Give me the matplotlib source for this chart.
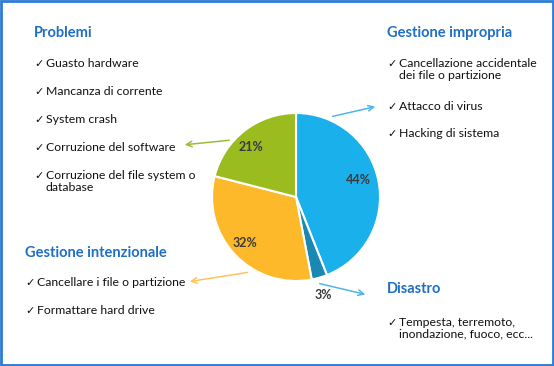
import matplotlib.pyplot as plt
from matplotlib.patches import Rectangle

# pie data (percent of data loss causes)
categories = ['Gestione impropria', 'Disastro', 'Gestione intenzionale', 'Problemi']
shares = [44, 3, 32, 21]
colors = ['#1ab0ec', '#1b87b3', '#fdb92a', '#9bbc1f']
arrow_colors = ['#4fb6e8', '#4fb6e8', '#fcc45a', '#9bbc3a']

problemi_items = ['Guasto hardware', 'Mancanza di corrente', 'System crash',
                  'Corruzione del software', 'Corruzione del file system o\ndatabase']
impropria_items = ['Cancellazione accidentale\ndei file o partizione',
                   'Attacco di virus', 'Hacking di sistema']
intenzionale_items = ['Cancellare i file o partizione', 'Formattare hard drive']
disastro_items = ['Tempesta, terremoto,\ninondazione, fuoco, ecc...']

W, H = 554, 366
FONT = ['Lato', 'DejaVu Sans']
HEAD_COLOR = '#1f6fc6'

fig = plt.figure(figsize=(W / 100, H / 100), dpi=100)
ax = fig.add_axes([0, 0, 1, 1])

def Y(y):
    # pixel row (from top) to data y
    return H - y

cx, cy, r = 296, Y(197), 84
wedges, texts = ax.pie(shares, colors=colors, startangle=90, counterclock=False,
                       center=(cx, cy), radius=r, frame=True,
                       wedgeprops=dict(edgecolor='white', linewidth=1.5))
ax.set_xlim(0, W)
ax.set_ylim(0, H)
ax.set_aspect('equal')
ax.axis('off')

# percent labels
label_pos = [(358, 180), (323, 295), (245, 243), (251, 147)]
for s, (lx, ly) in zip(shares, label_pos):
    ax.text(lx, Y(ly), '%d%%' % s, ha='center', va='center', fontsize=9,
            fontweight='bold', color='#3a3a3a', family=FONT)

# arrows from slices to text blocks
arrows = [((330, 117), (378, 106)), ((317, 283), (368, 295)),
          ((250, 272), (187, 282)), ((232, 140), (182, 145))]
for (p0, p1), c in zip(arrows, arrow_colors):
    ax.annotate('', xy=(p1[0], Y(p1[1])), xytext=(p0[0], Y(p0[1])),
                arrowprops=dict(arrowstyle='->', color=c, lw=1.1))

def block(x, y_head, title, items, y_items):
    ax.text(x, Y(y_head), title, fontsize=10.5, fontweight='bold', color=HEAD_COLOR,
            va='center', ha='left', family=FONT)
    for it, yy in zip(items, y_items):
        ax.text(x, Y(yy + 1), '\u2713', fontsize=8, va='center', ha='left',
                color='#111111', family=['DejaVu Sans'])
        ax.text(x + 12, Y(yy - 5), it, fontsize=8.8, va='top', ha='left', color='#111111',
                family=FONT, linespacing=1.1)

block(34, 33, 'Problemi', problemi_items, [63, 91, 119, 147, 175])
block(387, 33, 'Gestione impropria', impropria_items, [63, 106, 133])
block(25, 253, 'Gestione intenzionale', intenzionale_items, [282, 310])
block(387, 289, 'Disastro', disastro_items, [322])

# frame around the slide
ax.add_patch(Rectangle((1, 1), W - 2, H - 2, fill=False, edgecolor='#2b7bd6',
                       linewidth=2, clip_on=False))

fig.savefig('out.png', dpi=100)
